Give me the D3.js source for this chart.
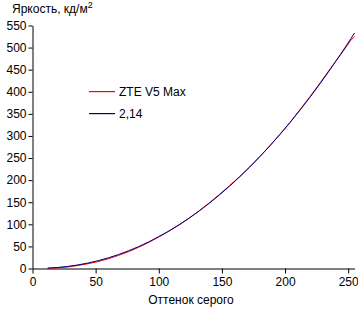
<!DOCTYPE html>
<html>
<head>
<meta charset="utf-8">
<script src="https://cdn.jsdelivr.net/npm/d3@7"></script>
<style>
  body { margin: 0; background: #fff; }
  svg { display: block; font-family: "Liberation Sans", Arial, sans-serif; }
</style>
</head>
<body>
<div id="chart"></div>
<script>
// grey levels and measured brightness
const greyLevels = [12, 20, 28, 36, 44, 52, 60, 68, 76, 84, 92, 100, 108, 116, 124, 132, 140, 148, 156, 164, 172, 180, 188, 196, 204, 212, 220, 228, 236, 244, 252, 255];
const zteValues = [0.5, 1.5, 3.5, 6.8, 10.8, 15.8, 22, 29.5, 38, 48, 59, 71.5, 84.5, 98.5, 114, 130.5, 148.5, 167.5, 187.5, 208, 230, 253.5, 278, 304, 331, 360, 390, 421, 453, 484, 516, 525];
const gammaValues = [0.8, 2.3, 4.7, 8.1, 12.4, 17.7, 24.1, 31.5, 40, 49.5, 60.2, 72.1, 84.8, 98.7, 113.9, 130.3, 147.7, 166.4, 186.2, 207.2, 229.5, 252.9, 277.6, 303.5, 330.7, 359, 388.6, 419.5, 451.6, 485, 519.6, 533];
const xTicks = [0, 50, 100, 150, 200, 250];
const yTicks = [0, 50, 100, 150, 200, 250, 300, 350, 400, 450, 500, 550];
const seriesNames = ["ZTE V5 Max", "2,14"];
const seriesColors = ["#ff0000", "#000080"];

const width = 358, height = 311;

const svg = d3.select("#chart").append("svg")
  .attr("width", width)
  .attr("height", height);

const x = d3.scaleLinear().domain([0, 255]).range([32.5, 354.5]);
const y = d3.scaleLinear().domain([0, 550]).range([268.5, 25.5]);

// axes
const xAxis = svg.append("g")
  .attr("transform", `translate(0, ${y(0)})`)
  .call(d3.axisBottom(x).tickValues(xTicks).tickSize(5).tickPadding(4).tickSizeOuter(0));

const yAxis = svg.append("g")
  .attr("transform", `translate(${x(0)}, 0)`)
  .call(d3.axisLeft(y).tickValues(yTicks).tickSize(4).tickPadding(2).tickSizeOuter(0));

[xAxis, yAxis].forEach(function(g) {
  g.select(".domain").attr("stroke", "#000");
  g.selectAll(".tick line").attr("stroke", "#000");
  g.selectAll(".tick text")
    .attr("fill", "#000")
    .style("font-size", "12px")
    .style("font-family", "\"Liberation Sans\", Arial, sans-serif");
});

// lines
const line = d3.line()
  .x((d) => x(d[0]))
  .y((d) => y(d[1]));

const series = [zteValues, gammaValues];
series.forEach(function(vals, i) {
  svg.append("path")
    .datum(greyLevels.map((g, j) => [g, vals[j]]))
    .attr("fill", "none")
    .attr("stroke", seriesColors[i])
    .attr("stroke-width", 1)
    .attr("d", line);
});

// titles
const title = svg.append("text")
  .attr("x", 12)
  .attr("y", 13)
  .style("font-size", "12px")
  .text("Яркость, кд/м");
title.append("tspan")
  .attr("dy", -5)
  .style("font-size", "9px")
  .text("2");

svg.append("text")
  .attr("x", 191)
  .attr("y", 304)
  .attr("text-anchor", "middle")
  .style("font-size", "12px")
  .text("Оттенок серого");

// legend
const legend = svg.append("g");
seriesNames.forEach(function(name, i) {
  let ly = 91 + i * 22;
  legend.append("rect")
    .attr("x", 89).attr("y", ly)
    .attr("width", 26).attr("height", 1.2)
    .attr("fill", seriesColors[i]);
  legend.append("text")
    .attr("x", 119)
    .attr("y", ly + 4.5)
    .style("font-size", "12px")
    .text(name);
});
</script>
</body>
</html>
